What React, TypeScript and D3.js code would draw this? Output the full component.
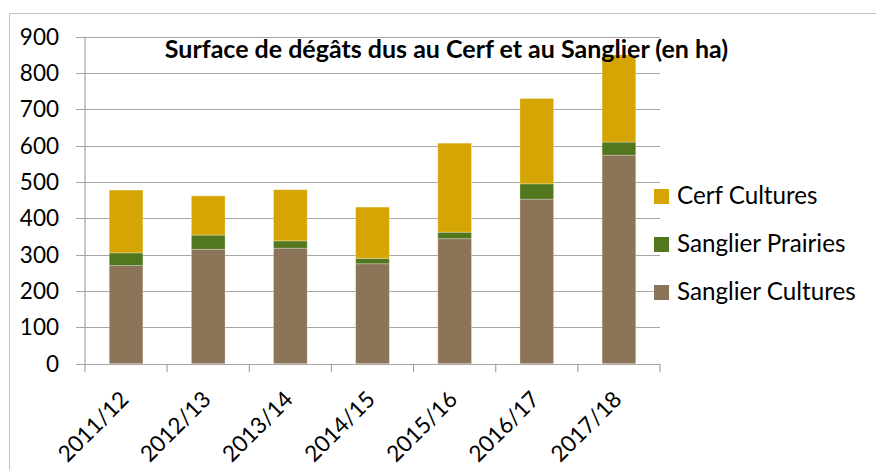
import React from "react";
import * as d3 from "d3";

const categories = ["2011/12", "2012/13", "2013/14", "2014/15", "2015/16", "2016/17", "2017/18"];
const sanglierCultures = [270, 315, 318, 275, 344, 453, 574];
const sanglierPrairies = [35, 39, 20, 15, 18, 42, 36];
const cerfCultures = [173, 108, 141, 141, 245, 235, 240];
const yTicks = [0, 100, 200, 300, 400, 500, 600, 700, 800, 900];
const seriesNames = ["Sanglier Cultures", "Sanglier Prairies", "Cerf Cultures"];
const seriesColors = ["#8B7458", "#53771F", "#D5A603"];
const title = "Surface de dégâts dus au Cerf et au Sanglier (en ha)";

const W = 876;
const H = 470;
const plot = { left: 85, right: 660, top: 36.7, bottom: 363.7 };
const FONT = "Lato, 'Open Sans', sans-serif";

export default function App() {
  const x = d3.scaleBand<string>().domain(categories).range([plot.left, plot.right]).paddingInner(0.59).paddingOuter(0.295);
  const xb = d3.scaleBand<string>().domain(categories).range([plot.left, plot.right]);
  const y = d3.scaleLinear().domain([0, 900]).range([plot.bottom, plot.top]);

  const rows = categories.map((c, i) => ({
    cat: c,
    s0: sanglierCultures[i],
    s1: sanglierPrairies[i],
    s2: cerfCultures[i],
  }));
  const stack = d3.stack<any>().keys(["s0", "s1", "s2"])(rows);

  const legendOrder = [2, 1, 0];

  return (
    <svg width={W} height={H} style={{ position: "absolute", left: 0, top: 0, background: "#fff" }}>
      {/* outer border */}
      <line x1={9.5} y1={13.5} x2={W} y2={13.5} stroke="#c0c0c0" strokeWidth={1} />
      <line x1={9.5} y1={13.5} x2={9.5} y2={H} stroke="#c0c0c0" strokeWidth={1} />

      {/* gridlines + y ticks */}
      {yTicks.map((t) => (
        <g key={t}>
          <line x1={plot.left - 9} x2={plot.right} y1={Math.round(y(t)) + 0.5} y2={Math.round(y(t)) + 0.5} stroke="#a6a6a6" strokeWidth={1.2} />
          <text x={59} y={y(t) + 8} textAnchor="end" fontFamily={FONT} fontSize={22.5} fill="#000">
            {t}
          </text>
        </g>
      ))}

      {/* y axis line */}
      <line x1={plot.left} x2={plot.left} y1={plot.top} y2={plot.bottom + 8.5} stroke="#a6a6a6" strokeWidth={1.2} />

      {/* x category ticks */}
      {categories.map((c) => (
        <line key={c} x1={xb(c)! + xb.bandwidth()} x2={xb(c)! + xb.bandwidth()} y1={plot.bottom} y2={plot.bottom + 8.5} stroke="#a6a6a6" strokeWidth={1.2} />
      ))}

      {/* bars */}
      {stack.map((layer, li) =>
        layer.map((d, i) => (
          <rect
            key={li + "-" + i}
            x={x(categories[i])}
            width={x.bandwidth()}
            y={y(d[1])}
            height={y(d[0]) - y(d[1])}
            fill={seriesColors[li]}
            stroke="#ffffff"
            strokeOpacity={0.35}
            strokeWidth={0.8}
          />
        ))
      )}

      {/* x labels */}
      {categories.map((c) => {
        const cx = xb(c)! + xb.bandwidth() / 2;
        return (
          <text
            key={c}
            transform={`translate(${cx + 4},${plot.bottom + 37}) rotate(-45)`}
            textAnchor="end"
            fontFamily={FONT}
            fontSize={22.5}
            fill="#000"
          >
            {c}
          </text>
        );
      })}

      {/* title */}
      <text x={446.5} y={58} textAnchor="middle" fontFamily={FONT} fontWeight="bold" fontSize={25} fill="#000">
        {title}
      </text>

      {/* legend */}
      {legendOrder.map((si, k) => {
        const ly = 189 + k * 48;
        return (
          <g key={si}>
            <rect x={654} y={ly} width={15} height={15} fill={seriesColors[si]} />
            <text x={677} y={ly + 15} fontFamily={FONT} fontSize={24.2} fill="#000">
              {seriesNames[si]}
            </text>
          </g>
        );
      })}
    </svg>
  );
}
